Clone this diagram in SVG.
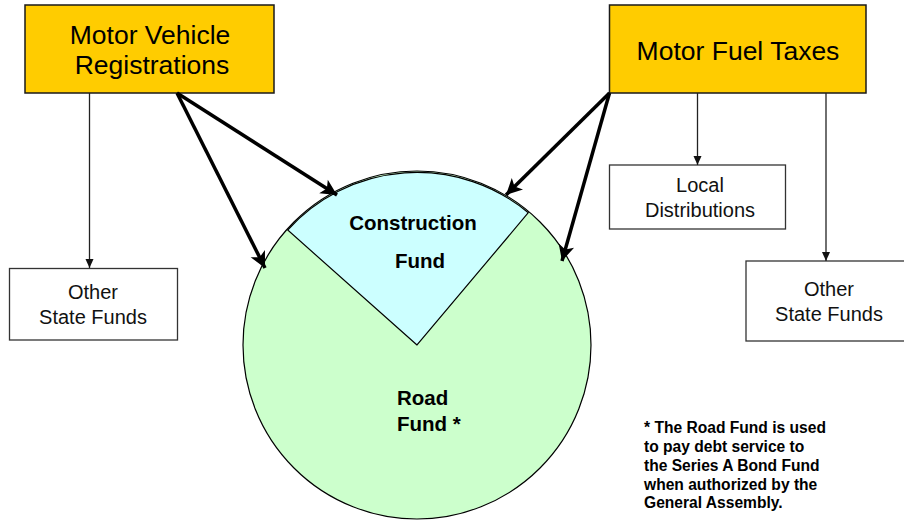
<svg xmlns="http://www.w3.org/2000/svg" width="904" height="520" viewBox="0 0 904 520">
<style>
.src{fill:#FFCC00;stroke:#1a1a1a;stroke-width:1.5}
.box{fill:#FFFFFF;stroke:#333333;stroke-width:1.3}
.t26{font-family:"Liberation Sans",Arial,sans-serif;font-size:26.5px;fill:#000;text-anchor:middle}
.t20{font-family:"Liberation Sans",Arial,sans-serif;font-size:20px;fill:#111;text-anchor:middle}
.b20{font-family:"Liberation Sans",Arial,sans-serif;font-size:20.5px;font-weight:bold;fill:#000}
.note{font-family:"Liberation Sans",Arial,sans-serif;font-size:15.6px;font-weight:bold;fill:#000}
.thin{stroke:#222;stroke-width:1.3;fill:none}
.thick{stroke:#000;stroke-width:3.5;fill:none}
</style>
<defs>
<marker id="ah" markerUnits="userSpaceOnUse" markerWidth="10" markerHeight="10" refX="9" refY="5" orient="auto">
<path d="M0,1 L9,5 L0,9 Z" fill="#111"/>
</marker>
<marker id="big" markerUnits="userSpaceOnUse" markerWidth="20" markerHeight="20" refX="17" refY="10" orient="auto">
<path d="M1,2 L17,10 L1,18 L5,10 Z" fill="#000"/>
</marker>
</defs>
<g id="road-fund-circle">
<circle cx="417" cy="345" r="174" fill="#CCFFCC" stroke="#000" stroke-width="1.2"/>
</g>
<g id="construction-fund">
<path d="M417,345 L287.7,230 A174,174 0 0 1 528.3,212.7 Z" fill="#CCFFFF" stroke="#000" stroke-width="1.2"/>
<text class="b20" x="413" y="230" text-anchor="middle">Construction</text>
<text class="b20" x="420" y="268" text-anchor="middle">Fund</text>
</g>
<g id="road-fund">
<text class="b20" x="397" y="405">Road</text>
<text class="b20" x="397" y="431">Fund *</text>
</g>
<g id="motor-vehicle-registrations">
<rect class="src" x="25" y="5" width="249" height="88"/>
<text class="t26" x="150" y="44">Motor Vehicle</text>
<text class="t26" x="152" y="74">Registrations</text>
</g>
<g id="motor-fuel-taxes">
<rect class="src" x="609.5" y="5" width="256.5" height="88"/>
<text class="t26" x="738" y="60">Motor Fuel Taxes</text>
</g>
<g id="other-state-funds-left">
<rect class="box" x="9.5" y="268.5" width="168" height="71.5"/>
<text class="t20" x="93" y="299">Other</text>
<text class="t20" x="93" y="324">State Funds</text>
</g>
<g id="local-distributions">
<rect class="box" x="609.5" y="165" width="176" height="64"/>
<text class="t20" x="700" y="192">Local</text>
<text class="t20" x="700" y="217">Distributions</text>
</g>
<g id="other-state-funds-right">
<rect class="box" x="746" y="261" width="160" height="80"/>
<text class="t20" x="829" y="296">Other</text>
<text class="t20" x="829" y="321">State Funds</text>
</g>
<g id="footnote">
<text class="note" x="644" y="433">* The Road Fund is used</text>
<text class="note" x="644" y="452">to pay debt service to</text>
<text class="note" x="644" y="471">the Series A Bond Fund</text>
<text class="note" x="644" y="489.5">when authorized by the</text>
<text class="note" x="644" y="508">General Assembly.</text>
</g>
<g id="connectors">
<line class="thin" x1="89.5" y1="93" x2="89.5" y2="268" marker-end="url(#ah)"/>
<line class="thin" x1="697.5" y1="93" x2="697.5" y2="165" marker-end="url(#ah)"/>
<line class="thin" x1="826" y1="93" x2="826" y2="261" marker-end="url(#ah)"/>
<line class="thick" x1="177" y1="93" x2="337" y2="195" marker-end="url(#big)"/>
<line class="thick" x1="177" y1="93" x2="265" y2="268" marker-end="url(#big)"/>
<line class="thick" x1="609.5" y1="93" x2="506" y2="195" marker-end="url(#big)"/>
<line class="thick" x1="609.5" y1="93" x2="562" y2="261" marker-end="url(#big)"/>
</g>
</svg>
